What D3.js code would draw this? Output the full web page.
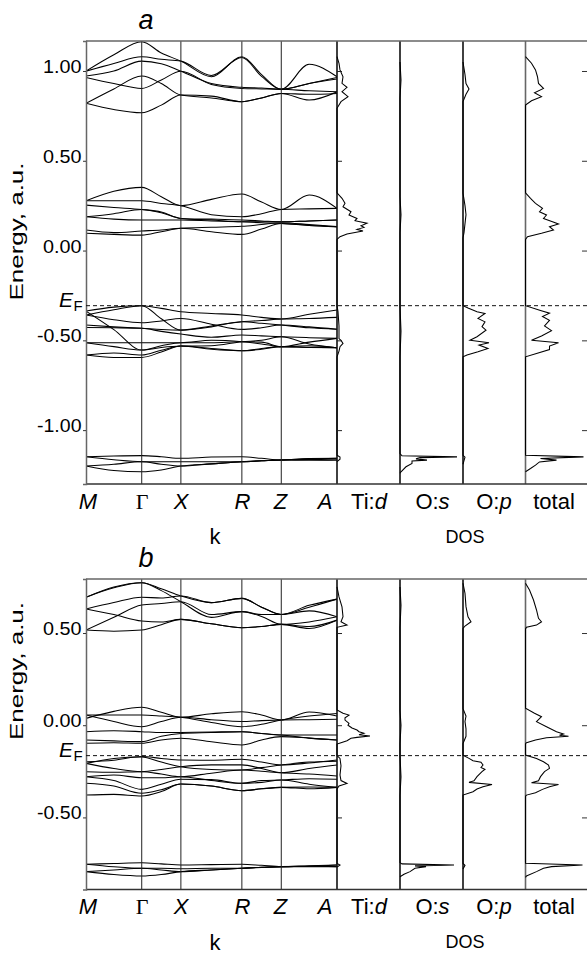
<!DOCTYPE html>
<html>
<head>
<meta charset="utf-8">
<script src="https://cdn.jsdelivr.net/npm/d3@7"></script>
<style>
  html, body { margin: 0; padding: 0; background: #fff; }
  svg { display: block; font-family: "Liberation Sans", Arial, Helvetica, sans-serif; }
</style>
</head>
<body>
<svg id="chart" width="587" height="954"></svg>
<script>
// ---- k-path (rutile Brillouin zone) ----
const kLabels = ["M", "Γ", "X", "R", "Z", "A"];
const kPositions = [0, 0.222, 0.378, 0.621, 0.778, 1.0];
// each band is sampled at: M, ½, Γ, ½, X, ½, R, ½, Z, ½, A

// ---- panel a : band energies (a.u.) ----
const bandsAUpper = [
  [0.999, 1.090, 1.163, 1.100, 1.055, 0.968, 1.079, 0.980, 0.898, 1.037, 0.968],
  [0.999, 1.042, 1.079, 1.065, 1.055, 0.975, 1.075, 0.970, 0.898, 0.930, 0.964],
  [0.972, 1.000, 1.055, 1.040, 0.999, 0.930, 0.909, 0.905, 0.898, 0.930, 0.955],
  [0.964, 0.930, 0.903, 0.950, 0.999, 0.925, 0.903, 0.900, 0.898, 0.890, 0.884],
  [0.820, 0.900, 0.972, 0.930, 0.866, 0.850, 0.829, 0.850, 0.875, 0.838, 0.884],
  [0.820, 0.785, 0.767, 0.810, 0.866, 0.860, 0.829, 0.850, 0.875, 0.870, 0.875]
];
const bandsAMiddle = [
  [0.277, 0.330, 0.352, 0.300, 0.250, 0.285, 0.315, 0.270, 0.229, 0.309, 0.235],
  [0.277, 0.277, 0.277, 0.262, 0.250, 0.200, 0.188, 0.205, 0.229, 0.232, 0.235],
  [0.253, 0.240, 0.229, 0.215, 0.179, 0.175, 0.170, 0.165, 0.160, 0.165, 0.170],
  [0.188, 0.205, 0.229, 0.210, 0.179, 0.170, 0.160, 0.160, 0.160, 0.165, 0.170],
  [0.188, 0.175, 0.170, 0.170, 0.170, 0.165, 0.160, 0.155, 0.151, 0.140, 0.133],
  [0.114, 0.100, 0.109, 0.115, 0.124, 0.105, 0.090, 0.120, 0.151, 0.140, 0.133],
  [0.096, 0.090, 0.086, 0.105, 0.124, 0.130, 0.135, 0.145, 0.155, 0.145, 0.133]
];
const bandsAValence = [
  [-0.337, -0.315, -0.307, -0.322, -0.341, -0.350, -0.359, -0.372, -0.381, -0.355, -0.331],
  [-0.359, -0.330, -0.307, -0.380, -0.443, -0.420, -0.396, -0.390, -0.381, -0.378, -0.372],
  [-0.359, -0.385, -0.402, -0.392, -0.378, -0.410, -0.439, -0.430, -0.415, -0.425, -0.438],
  [-0.415, -0.425, -0.433, -0.440, -0.443, -0.425, -0.396, -0.405, -0.415, -0.430, -0.438],
  [-0.428, -0.430, -0.433, -0.450, -0.465, -0.483, -0.470, -0.475, -0.480, -0.485, -0.489],
  [-0.513, -0.513, -0.513, -0.513, -0.513, -0.500, -0.508, -0.520, -0.535, -0.510, -0.489],
  [-0.513, -0.535, -0.554, -0.540, -0.532, -0.530, -0.508, -0.500, -0.480, -0.520, -0.541],
  [-0.582, -0.570, -0.582, -0.555, -0.532, -0.545, -0.558, -0.545, -0.535, -0.538, -0.541],
  [-0.582, -0.595, -0.595, -0.565, -0.532, -0.550, -0.558, -0.550, -0.535, -0.540, -0.541],
  [-0.337, -0.440, -0.554, -0.530, -0.513, -0.513, -0.508, -0.510, -0.535, -0.530, -0.541]
];
const bandsALower = [
  [-1.148, -1.144, -1.142, -1.148, -1.157, -1.150, -1.148, -1.157, -1.166, -1.158, -1.157],
  [-1.148, -1.165, -1.176, -1.176, -1.176, -1.176, -1.176, -1.171, -1.166, -1.163, -1.166],
  [-1.200, -1.190, -1.176, -1.190, -1.200, -1.188, -1.176, -1.171, -1.166, -1.168, -1.166],
  [-1.200, -1.225, -1.232, -1.222, -1.200, -1.188, -1.176, -1.170, -1.166, -1.160, -1.157]
];

// ---- panel b : band energies (a.u.) ----
const bandsBUpper = [
  [0.694, 0.745, 0.773, 0.740, 0.701, 0.665, 0.688, 0.640, 0.601, 0.640, 0.684],
  [0.694, 0.750, 0.773, 0.730, 0.670, 0.585, 0.616, 0.600, 0.601, 0.650, 0.684],
  [0.630, 0.665, 0.694, 0.690, 0.701, 0.665, 0.688, 0.640, 0.601, 0.620, 0.588],
  [0.516, 0.585, 0.652, 0.660, 0.670, 0.600, 0.616, 0.590, 0.547, 0.560, 0.588],
  [0.630, 0.600, 0.565, 0.560, 0.574, 0.550, 0.529, 0.535, 0.547, 0.535, 0.570],
  [0.516, 0.510, 0.516, 0.545, 0.574, 0.550, 0.529, 0.535, 0.547, 0.525, 0.570]
];
const bandsBMiddle = [
  [0.037, 0.075, 0.097, 0.070, 0.043, 0.062, 0.073, 0.055, 0.028, 0.072, 0.050],
  [0.055, 0.055, 0.055, 0.050, 0.043, 0.015, -0.008, 0.005, 0.028, 0.050, 0.064],
  [0.055, 0.020, -0.008, 0.020, 0.043, 0.030, 0.020, 0.025, 0.028, 0.030, 0.032],
  [-0.035, -0.030, -0.035, -0.040, -0.039, -0.037, -0.035, -0.045, -0.053, -0.053, -0.053],
  [-0.080, -0.085, -0.089, -0.060, -0.045, -0.040, -0.035, -0.045, -0.053, -0.070, -0.080],
  [-0.098, -0.095, -0.098, -0.080, -0.071, -0.090, -0.107, -0.080, -0.062, -0.070, -0.080]
];
const bandsBValence = [
  [-0.198, -0.190, -0.170, -0.180, -0.189, -0.190, -0.185, -0.200, -0.216, -0.205, -0.189],
  [-0.207, -0.180, -0.172, -0.200, -0.225, -0.240, -0.243, -0.230, -0.216, -0.200, -0.195],
  [-0.207, -0.235, -0.252, -0.240, -0.225, -0.215, -0.215, -0.235, -0.258, -0.235, -0.216],
  [-0.252, -0.255, -0.252, -0.265, -0.279, -0.260, -0.243, -0.250, -0.258, -0.265, -0.275],
  [-0.279, -0.270, -0.285, -0.285, -0.279, -0.300, -0.315, -0.300, -0.297, -0.290, -0.293],
  [-0.279, -0.300, -0.348, -0.320, -0.293, -0.295, -0.315, -0.310, -0.297, -0.320, -0.337],
  [-0.315, -0.330, -0.369, -0.350, -0.319, -0.330, -0.355, -0.345, -0.337, -0.335, -0.337],
  [-0.379, -0.375, -0.384, -0.360, -0.319, -0.330, -0.355, -0.345, -0.337, -0.345, -0.337]
];
const bandsBLower = [
  [-0.754, -0.750, -0.746, -0.752, -0.758, -0.756, -0.754, -0.760, -0.767, -0.762, -0.758],
  [-0.754, -0.768, -0.776, -0.776, -0.778, -0.776, -0.776, -0.772, -0.767, -0.765, -0.767],
  [-0.794, -0.785, -0.776, -0.785, -0.794, -0.785, -0.776, -0.770, -0.767, -0.768, -0.767],
  [-0.794, -0.810, -0.818, -0.810, -0.794, -0.785, -0.776, -0.770, -0.767, -0.765, -0.758]
];

// ---- Fermi levels and energy ticks ----
const fermiA = -0.307;
const fermiB = -0.165;
const ticksA = [1.0, 0.5, 0.0, -0.5, -1.0];
const ticksB = [0.5, 0.0, -0.5];

// ---- densities of states: [energy, DOS (arb. units)] ----
const dosLabels = [["Ti:", "d"], ["O:", "s"], ["O:", "p"], ["total", ""]];

const dosATid = [
  [1.080, 0], [1.043, 2], [1.006, 3], [0.968, 6], [0.931, 5], [0.909, 10], [0.885, 5], [0.857, 11], [0.829, 4], [0.792, 0],
  [0.322, 0], [0.291, 5], [0.263, 8], [0.244, 6], [0.216, 14], [0.198, 12], [0.179, 20], [0.166, 18], [0.152, 30], [0.138, 24],
  [0.129, 27], [0.118, 20], [0.109, 26], [0.092, 10], [0.077, 3], [0.062, 0],
  [-0.307, 0], [-0.340, 1], [-0.420, 2], [-0.490, 2], [-0.500, 4], [-0.517, 6], [-0.535, 3], [-0.560, 2], [-0.592, 0],
  [-1.140, 0], [-1.150, 3], [-1.162, 3], [-1.175, 0]
];
const dosAOs = [
  [1.05, 0], [0.95, 1], [0.85, 0], [0.30, 0], [0.20, 1], [0.10, 0], [-0.31, 0], [-0.45, 1], [-0.59, 0],
  [-1.130, 0], [-1.143, 2], [-1.149, 57], [-1.153, 20], [-1.160, 16], [-1.167, 27], [-1.172, 12], [-1.186, 12],
  [-1.204, 6], [-1.232, 1], [-1.240, 0]
];
const dosAOp = [
  [1.05, 0], [0.98, 2], [0.93, 3], [0.90, 6], [0.87, 3], [0.83, 0],
  [0.32, 0], [0.25, 2], [0.20, 3], [0.15, 2], [0.10, 1], [0.07, 0],
  [-0.307, 0], [-0.320, 5], [-0.341, 14], [-0.350, 22], [-0.378, 15], [-0.397, 22], [-0.424, 19], [-0.443, 23],
  [-0.480, 14], [-0.499, 7], [-0.513, 26], [-0.526, 16], [-0.545, 25], [-0.564, 15], [-0.582, 4], [-0.592, 0],
  [-1.14, 0], [-1.15, 2], [-1.17, 1], [-1.19, 0]
];
const dosATotal = [
  [1.080, 0], [1.043, 6], [1.006, 10], [0.968, 12], [0.931, 13], [0.903, 18], [0.879, 9], [0.857, 16], [0.834, 6], [0.810, 0],
  [0.322, 0], [0.291, 5], [0.263, 10], [0.235, 17], [0.216, 14], [0.198, 21], [0.179, 18], [0.161, 27], [0.148, 33],
  [0.133, 24], [0.114, 28], [0.096, 16], [0.077, 2], [0.062, 0],
  [-0.307, 0], [-0.334, 15], [-0.349, 24], [-0.367, 17], [-0.389, 24], [-0.420, 19], [-0.446, 26], [-0.476, 16],
  [-0.499, 6], [-0.513, 33], [-0.532, 24], [-0.551, 24], [-0.573, 11], [-0.592, 0],
  [-1.140, 0], [-1.149, 58], [-1.158, 15], [-1.167, 31], [-1.177, 14], [-1.195, 10], [-1.214, 5], [-1.232, 0]
];

const dosBTid = [
  [0.750, 0], [0.696, 2], [0.642, 5], [0.588, 6], [0.561, 4], [0.543, 10], [0.531, 0],
  [0.083, 0], [0.065, 6], [0.055, 12], [0.040, 8], [0.028, 8], [0.010, 12], [0.000, 11], [-0.015, 15], [-0.026, 20],
  [-0.035, 22], [-0.044, 27], [-0.052, 22], [-0.059, 33], [-0.066, 20], [-0.071, 14], [-0.084, 10], [-0.095, 4], [-0.102, 0],
  [-0.165, 0], [-0.180, 3], [-0.220, 4], [-0.270, 3], [-0.300, 4], [-0.316, 10], [-0.330, 2], [-0.345, 0],
  [-0.750, 0], [-0.758, 3], [-0.770, 0]
];
const dosBOs = [
  [0.75, 0], [0.65, 1], [0.53, 0], [0.08, 0], [0.00, 1], [-0.10, 0], [-0.165, 0], [-0.28, 1], [-0.38, 0],
  [-0.745, 0], [-0.752, 2], [-0.758, 54], [-0.763, 15], [-0.767, 26], [-0.776, 15], [-0.794, 10], [-0.808, 4], [-0.822, 0]
];
const dosBOp = [
  [0.770, 0], [0.715, 2], [0.643, 3], [0.588, 5], [0.561, 8], [0.538, 2], [0.525, 0],
  [0.09, 0], [0.05, 3], [0.02, 2], [-0.02, 3], [-0.06, 3], [-0.10, 0],
  [-0.162, 0], [-0.180, 6], [-0.193, 10], [-0.201, 18], [-0.216, 20], [-0.229, 18], [-0.239, 22], [-0.252, 19],
  [-0.279, 14], [-0.301, 11], [-0.310, 6], [-0.321, 29], [-0.334, 20], [-0.346, 14], [-0.361, 10], [-0.379, 0],
  [-0.75, 0], [-0.76, 2], [-0.78, 0]
];
const dosBTotal = [
  [0.770, 0], [0.733, 4], [0.679, 8], [0.625, 11], [0.580, 13], [0.561, 16], [0.543, 11], [0.531, 1], [0.522, 0],
  [0.092, 0], [0.065, 9], [0.046, 16], [0.019, 11], [-0.008, 21], [-0.035, 31], [-0.047, 38], [-0.054, 34], [-0.060, 43],
  [-0.068, 21], [-0.080, 10], [-0.095, 1], [-0.100, 0],
  [-0.162, 0], [-0.180, 11], [-0.198, 18], [-0.216, 23], [-0.234, 24], [-0.252, 19], [-0.279, 15], [-0.301, 13],
  [-0.312, 6], [-0.321, 33], [-0.334, 24], [-0.348, 17], [-0.366, 10], [-0.379, 1], [-0.385, 0],
  [-0.749, 0], [-0.758, 57], [-0.767, 26], [-0.776, 18], [-0.794, 11], [-0.818, 1], [-0.825, 0]
];

// ---- layout ----
const bandLeft = 86, bandRight = 337;
const dosLefts = [337, 400, 463, 525.5];
const dosWidth = 62.5;
const frameRight = 588;

const panels = [
  { title: "a", top: 41, bottom: 484, eRange: [-1.30, 1.167], fermi: fermiA, ticks: ticksA,
    bands: [bandsAUpper, bandsAMiddle, bandsAValence, bandsALower],
    dos: [dosATid, dosAOs, dosAOp, dosATotal], yLabel: 231.5 },
  { title: "b", top: 579, bottom: 889.5, eRange: [-0.891, 0.793], fermi: fermiB, ticks: ticksB,
    bands: [bandsBUpper, bandsBMiddle, bandsBValence, bandsBLower],
    dos: [dosBTid, dosBOs, dosBOp, dosBTotal], yLabel: 671 }
];

// sample positions along the k path: high-symmetry points and segment midpoints
const kSample = [];
kPositions.forEach((k, i) => {
  if (i > 0) kSample.push((kPositions[i - 1] + k) / 2);
  kSample.push(k);
});

const svg = d3.select("#chart");
const fmt = v => d3.format(".2f")(v).replace("\u2212", "-");
const x = d3.scaleLinear().domain([0, 1]).range([bandLeft, bandRight]);
const dosX = d3.scaleLinear().domain([0, 62.5]).range([0, dosWidth]);

panels.forEach((p, pi) => {
  const g = svg.append("g");
  const y = d3.scaleLinear().domain(p.eRange).range([p.bottom, p.top]);

  const clipId = "clip" + pi;
  svg.append("clipPath").attr("id", clipId)
    .append("rect").attr("x", bandLeft).attr("y", p.top)
    .attr("width", bandRight - bandLeft).attr("height", p.bottom - p.top);

  // band structure
  const bandLine = d3.line()
    .x((e, i) => x(kSample[i]))
    .y(e => y(e))
    .curve(d3.curveMonotoneX);
  const bandG = g.append("g").attr("clip-path", `url(#${clipId})`);
  p.bands.flat().forEach(b => {
    bandG.append("path").attr("d", bandLine(b))
      .attr("fill", "none").attr("stroke", "#000").attr("stroke-width", 1.05);
  });

  // high-symmetry verticals
  g.selectAll(null).data(kPositions.slice(1, -1)).join("line")
    .attr("x1", d => x(d)).attr("x2", d => x(d))
    .attr("y1", p.top).attr("y2", p.bottom)
    .attr("stroke", "#222").attr("stroke-width", 1);

  // DOS panels
  p.dos.forEach((curve, di) => {
    const left = dosLefts[di];
    g.append("line")
      .attr("x1", left).attr("x2", left).attr("y1", p.top).attr("y2", p.bottom)
      .attr("stroke", di === 3 ? "#666" : "#111").attr("stroke-width", 1.6);
    const dosLine = d3.line()
      .x(d => left + dosX(d[1]))
      .y(d => y(d[0]));
    g.append("path").attr("d", dosLine(curve))
      .attr("fill", "none").attr("stroke", "#000").attr("stroke-width", 1.05);
  });

  // frame
  g.append("line").attr("x1", bandLeft).attr("x2", frameRight).attr("y1", p.top).attr("y2", p.top)
    .attr("stroke", "#666").attr("stroke-width", 1.5);
  g.append("line").attr("x1", bandLeft).attr("x2", frameRight).attr("y1", p.bottom).attr("y2", p.bottom)
    .attr("stroke", "#333").attr("stroke-width", 1.5);

  // left energy axis
  const axL = g.append("g").attr("transform", `translate(${bandLeft},0)`)
    .call(d3.axisLeft(y).tickValues(p.ticks).tickSize(3).tickPadding(1.5).tickFormat(fmt));
  axL.select(".domain").attr("stroke", "#666").attr("stroke-width", 1.5);
  axL.selectAll(".tick line").attr("stroke", "#333");
  axL.selectAll(".tick text")
    .attr("font-family", "Liberation Sans, Arial, sans-serif")
    .attr("font-size", 19).attr("fill", "#000").attr("dy", 1.5)
    .attr("textLength", d => fmt(d).length === 4 ? 38.5 : 44.5)
    .attr("lengthAdjust", "spacingAndGlyphs");

  // inner ticks of the first DOS panel and of the right edge
  const axD = g.append("g").attr("transform", `translate(${dosLefts[0]},0)`)
    .call(d3.axisRight(y).tickValues(p.ticks).tickSize(5).tickFormat(""));
  axD.select(".domain").remove();
  axD.selectAll(".tick line").attr("stroke", "#222");
  const axR = g.append("g").attr("transform", `translate(${frameRight},0)`)
    .call(d3.axisLeft(y).tickValues(p.ticks).tickSize(6).tickFormat(""));
  axR.select(".domain").remove();
  axR.selectAll(".tick line").attr("stroke", "#333");

  // Fermi level
  g.append("line").attr("x1", bandLeft).attr("x2", frameRight)
    .attr("y1", y(p.fermi)).attr("y2", y(p.fermi))
    .attr("stroke", "#111").attr("stroke-width", 1).attr("stroke-dasharray", "4 3");
  const ef = g.append("text").attr("x", 59).attr("y", y(p.fermi) + 1.5).attr("fill", "#000");
  ef.append("tspan").attr("font-size", 21).attr("font-style", "italic").text("E");
  ef.append("tspan").attr("font-size", 15).attr("dy", 4).attr("dx", 0.5).text("F");

  // panel title
  g.append("text").attr("x", 146).attr("y", p.top - 12.5)
    .attr("text-anchor", "middle").attr("font-size", 27).attr("font-style", "italic")
    .text(p.title);

  // energy axis title
  g.append("text")
    .attr("transform", `translate(23,${p.yLabel}) rotate(-90)`)
    .attr("text-anchor", "middle").attr("font-size", 19)
    .attr("textLength", 138).attr("lengthAdjust", "spacingAndGlyphs")
    .text("Energy, a.u.");

  // k-point labels
  const kLabelX = [88, 142, 181, 242.5, 280.5, 325];
  kLabels.forEach((lab, i) => {
    const t = g.append("text").attr("x", kLabelX[i]).attr("y", p.bottom + 24.5)
      .attr("text-anchor", "middle").attr("font-size", 22).text(lab);
    if (lab === "Γ") t.attr("font-family", "Liberation Serif, Times New Roman, serif");
    else t.attr("font-style", "italic");
  });
  g.append("text").attr("x", 215).attr("y", p.bottom + 60)
    .attr("text-anchor", "middle").attr("font-size", 22).text("k");

  // DOS labels
  const dosLabelX = [369, 432.5, 494, 554];
  dosLabels.forEach((lab, i) => {
    const t = g.append("text").attr("x", dosLabelX[i]).attr("y", p.bottom + 24.5)
      .attr("text-anchor", "middle").attr("font-size", 22);
    t.append("tspan").text(lab[0]);
    if (lab[1]) t.append("tspan").attr("font-style", "italic").text(lab[1]);
  });
  g.append("text").attr("x", 465).attr("y", p.bottom + 58.5)
    .attr("text-anchor", "middle").attr("font-size", 18).text("DOS");
});
</script>
</body>
</html>
